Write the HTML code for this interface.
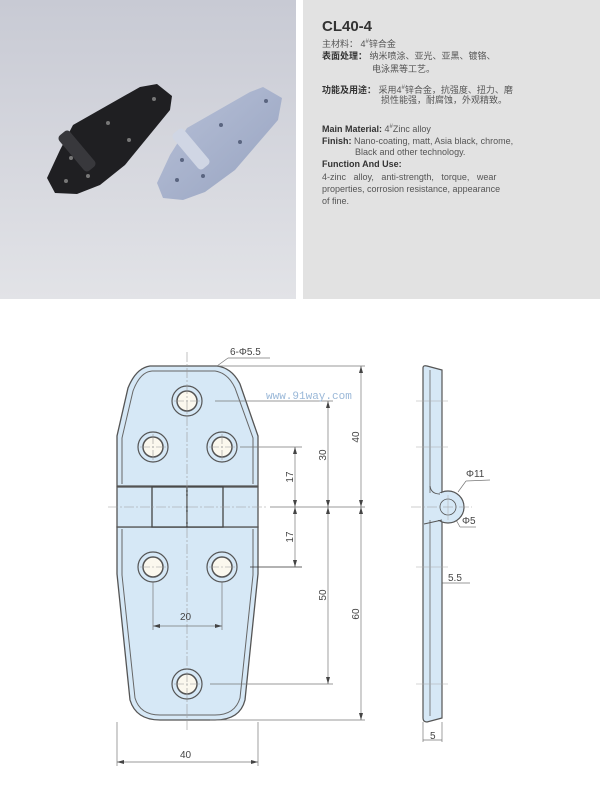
<!DOCTYPE html>
<html><head><meta charset="utf-8"><style>
body{margin:0;width:600px;height:790px;background:#fff;overflow:hidden;position:relative;font-family:"Liberation Sans","Noto Sans CJK SC",sans-serif}
.t{position:absolute;font-size:9px;color:#555;white-space:nowrap;line-height:11px}
.b{font-weight:bold;color:#333}
</style></head><body>
<svg width="600" height="790" style="position:absolute;left:0;top:0">
<defs>
<linearGradient id="bg" x1="0" y1="0" x2="0" y2="1"><stop offset="0" stop-color="#c8cad4"/><stop offset="1" stop-color="#e2e3e7"/></linearGradient>
<linearGradient id="sv" x1="0" y1="0" x2="1" y2="1"><stop offset="0" stop-color="#b8c1d8"/><stop offset="1" stop-color="#97a3c0"/></linearGradient>
</defs>
<rect x="0" y="0" width="296" height="299" fill="url(#bg)"/>
<rect x="303" y="0" width="297" height="299" fill="#e2e2e2"/>
<!-- dark hinge -->
<polygon points="73,125 140,87 157,84 172,96 170,110 125,165 100,185 77,194 55,193 47,178 60,150" fill="#1f1f22"/>
<rect x="70" y="128" width="14" height="46" rx="4" transform="rotate(-40 77 151)" fill="#38383c"/>
<g fill="#777"><circle cx="154" cy="99" r="2"/><circle cx="108" cy="123" r="2"/><circle cx="129" cy="140" r="2"/><circle cx="71" cy="158" r="2"/><circle cx="88" cy="176" r="2"/><circle cx="66" cy="181" r="2"/></g>
<!-- silver hinge -->
<polygon points="187,128 250,92 263,87 282,98 278,120 235,170 205,192 183,200 163,198 157,183 170,155" fill="url(#sv)"/>
<rect x="184" y="126" width="14" height="46" rx="4" transform="rotate(-40 191 149)" fill="#d0d6e4"/>
<g fill="#5a6580"><circle cx="266" cy="101" r="2"/><circle cx="221" cy="125" r="2"/><circle cx="240" cy="142" r="2"/><circle cx="182" cy="160" r="2"/><circle cx="203" cy="176" r="2"/><circle cx="177" cy="180" r="2"/></g>

<!-- main hinge -->
<g stroke="#555" stroke-width="1.3" fill="#d6e8f6">
<path d="M150,366 L217,366 Q232,368 240,384 L258,436 L258,486 L117,486 L117,436 L128,388 Q136,368 150,366 Z"/>
<path d="M117,527 L258,527 L258,574 L245,700 Q240,720 215,720 L160,720 Q136,720 130,700 L117,574 Z"/>
<rect x="117" y="487" width="141" height="40"/>
</g>
<g stroke="#666" stroke-width="1" fill="none">
<path d="M152,371 L215,371 Q228,373 235,388 L253,438 L253,484"/>
<path d="M122,484 L122,438 L133,391 Q140,372 152,371"/>
<path d="M122,529 L122,575 L135,698 Q140,715 160,715 L215,715 Q235,715 240,698 L253,575 L253,529"/>
</g>
<g stroke="#444" stroke-width="1.3" fill="#d6e8f6">
<rect x="152" y="487" width="35" height="40"/><rect x="187" y="487" width="36" height="40"/>
</g>
<g fill="#d6e8f6" stroke="#555" stroke-width="1.2">
<circle cx="187" cy="401" r="15"/><circle cx="153" cy="447" r="15"/><circle cx="222" cy="447" r="15"/>
<circle cx="153" cy="567" r="15"/><circle cx="222" cy="567" r="15"/><circle cx="187" cy="684" r="15"/>
</g>
<g fill="#fbf8ee" stroke="#555" stroke-width="1.5">
<circle cx="187" cy="401" r="10"/><circle cx="153" cy="447" r="10"/><circle cx="222" cy="447" r="10"/>
<circle cx="153" cy="567" r="10"/><circle cx="222" cy="567" r="10"/><circle cx="187" cy="684" r="10"/>
</g>
<!-- center lines -->
<g stroke="#999" stroke-width="0.6" stroke-dasharray="10,2,2,2" fill="none">
<line x1="187" y1="352" x2="187" y2="732"/>
<line x1="108" y1="507" x2="268" y2="507"/>
<line x1="140" y1="447" x2="166" y2="447"/><line x1="209" y1="447" x2="235" y2="447"/>
<line x1="140" y1="567" x2="166" y2="567"/><line x1="209" y1="567" x2="235" y2="567"/>
<line x1="174" y1="401" x2="200" y2="401"/><line x1="174" y1="684" x2="200" y2="684"/>
<line x1="153" y1="434" x2="153" y2="460"/><line x1="222" y1="434" x2="222" y2="460"/>
</g>
<!-- dimension lines -->
<g stroke="#777" stroke-width="0.7" fill="none">
<line x1="218" y1="366" x2="365" y2="366"/><line x1="210" y1="720" x2="365" y2="720"/>
<line x1="215" y1="401" x2="333" y2="401"/><line x1="210" y1="684" x2="333" y2="684"/>
<line x1="240" y1="447" x2="302" y2="447"/><line x1="270" y1="507" x2="365" y2="507"/>
<line x1="361" y1="366" x2="361" y2="720"/><line x1="328" y1="401" x2="328" y2="684"/>
<line x1="295" y1="447" x2="295" y2="567"/>
<line x1="153" y1="582" x2="153" y2="630"/><line x1="222" y1="582" x2="222" y2="630"/>
<line x1="153" y1="626" x2="222" y2="626"/>
<line x1="117" y1="722" x2="117" y2="766"/><line x1="258" y1="722" x2="258" y2="766"/>
<line x1="117" y1="762" x2="258" y2="762"/>
<line x1="217" y1="366" x2="228" y2="358"/><line x1="228" y1="358" x2="270" y2="358"/>
<line x1="423" y1="722" x2="423" y2="742"/><line x1="442" y1="722" x2="442" y2="742"/>
<line x1="423" y1="740" x2="442" y2="740"/>
<line x1="424" y1="583" x2="470" y2="583"/>
<line x1="458" y1="492" x2="466" y2="481"/><line x1="466" y1="481" x2="490" y2="480"/>
<line x1="455" y1="518" x2="460" y2="527"/><line x1="460" y1="527" x2="476" y2="527"/>
</g>
<line x1="250" y1="567" x2="302" y2="567" stroke="#333" stroke-width="0.8"/>
<g fill="#444">
<path d="M361,366 l-2,7 h4z"/><path d="M361,507 l-2,-7 h4z"/><path d="M361,507 l-2,7 h4z"/><path d="M361,720 l-2,-7 h4z"/>
<path d="M328,401 l-2,7 h4z"/><path d="M328,507 l-2,-7 h4z"/><path d="M328,507 l-2,7 h4z"/><path d="M328,684 l-2,-7 h4z"/>
<path d="M295,447 l-2,7 h4z"/><path d="M295,507 l-2,-7 h4z"/><path d="M295,507 l-2,7 h4z"/><path d="M295,567 l-2,-7 h4z"/>
<path d="M153,626 l7,-2 v4z"/><path d="M222,626 l-7,-2 v4z"/>
<path d="M117,762 l7,-2 v4z"/><path d="M258,762 l-7,-2 v4z"/>
</g>
<!-- side view -->
<path d="M423,368 Q423,365 427,366 L442,370 L442,718 L427,722 Q423,722 423,718 Z" stroke="#555" stroke-width="1.2" fill="#d6e8f6"/>
<line x1="430" y1="370" x2="430" y2="716" stroke="#666" stroke-width="0.8"/>
<circle cx="448" cy="507" r="16" fill="#d6e8f6" stroke="#555" stroke-width="1.2"/>
<rect x="424" y="493" width="17" height="27" fill="#d6e8f6"/>
<path d="M430,486 Q431,494 440,494" stroke="#555" stroke-width="1" fill="none"/>
<path d="M424,524 L442,520" stroke="#555" stroke-width="1"/>
<circle cx="448" cy="507" r="8" fill="#d6e8f6" stroke="#555" stroke-width="0.8"/>
<g stroke="#999" stroke-width="0.6" stroke-dasharray="10,2,2,2"><line x1="411" y1="507" x2="472" y2="507"/></g>
<g stroke="#aaa" stroke-width="0.5"><line x1="416" y1="401" x2="448" y2="401"/><line x1="416" y1="447" x2="448" y2="447"/><line x1="416" y1="567" x2="448" y2="567"/><line x1="416" y1="684" x2="448" y2="684"/><line x1="448" y1="495" x2="448" y2="520"/></g>
<!-- text -->
<g font-family="Liberation Sans, sans-serif" font-size="10" fill="#444">
<text x="230" y="355">6-Φ5.5</text>
<text x="180" y="620">20</text>
<text x="180" y="758">40</text>
<text x="466" y="477">Φ11</text>
<text x="462" y="524">Φ5</text>
<text x="448" y="581">5.5</text>
<text x="430" y="739">5</text>
<text transform="translate(359,437) rotate(-90)" text-anchor="middle">40</text>
<text transform="translate(359,614) rotate(-90)" text-anchor="middle">60</text>
<text transform="translate(326,455) rotate(-90)" text-anchor="middle">30</text>
<text transform="translate(326,595) rotate(-90)" text-anchor="middle">50</text>
<text transform="translate(293,477) rotate(-90)" text-anchor="middle">17</text>
<text transform="translate(293,537) rotate(-90)" text-anchor="middle">17</text>
</g>
<text x="266" y="399" font-family="Liberation Mono, monospace" font-size="11" fill="#9ab8d8">www.91way.com</text>
</svg>
<div class="t b" style="left:322px;top:18px;font-size:15px;line-height:17px">CL40-4</div>
<div class="t" style="left:322px;top:37px">主材料： 4<sup style="font-size:6px">#</sup>锌合金</div>
<div class="t" style="left:322px;top:51px"><b style="color:#333">表面处理：</b> 纳米喷涂、亚光、亚黑、镀铬、</div>
<div class="t" style="left:372px;top:64px">电泳黑等工艺。</div>
<div class="t" style="left:322px;top:83px"><b style="color:#333">功能及用途：</b> 采用4<sup style="font-size:6px">#</sup>锌合金，抗强度、扭力、磨</div>
<div class="t" style="left:381px;top:95px">损性能强，耐腐蚀，外观精致。</div>
<div class="t" style="left:322px;top:122px"><b style="color:#333">Main Material:</b> 4<sup style="font-size:6px">#</sup>Zinc alloy</div>
<div class="t" style="left:322px;top:136px"><b style="color:#333">Finish:</b> Nano-coating, matt, Asia black, chrome,</div>
<div class="t" style="left:355px;top:147px">Black and other technology.</div>
<div class="t b" style="left:322px;top:159px">Function And Use:</div>
<div class="t" style="left:322px;top:172px;word-spacing:5px">4-zinc alloy, anti-strength, torque, wear</div>
<div class="t" style="left:322px;top:184px">properties, corrosion resistance, appearance</div>
<div class="t" style="left:322px;top:196px">of fine.</div>
</body></html>
